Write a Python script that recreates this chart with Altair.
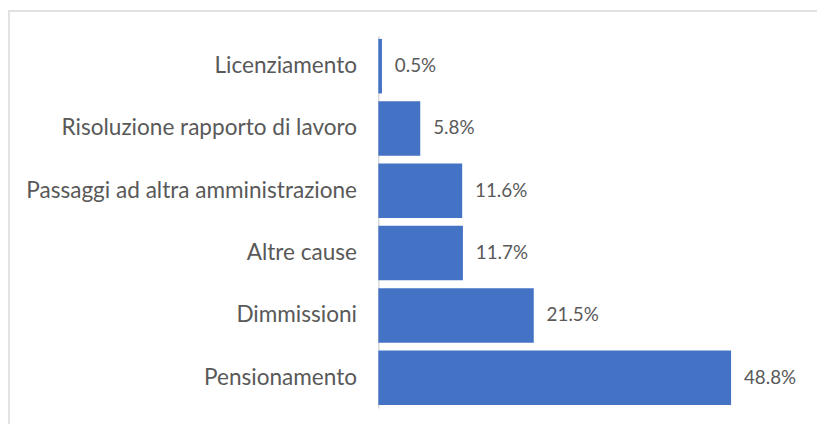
import altair as alt
import pandas as pd

categories = [
    "Licenziamento",
    "Risoluzione rapporto di lavoro",
    "Passaggi ad altra amministrazione",
    "Altre cause",
    "Dimmissioni",
    "Pensionamento",
]
values = [0.5, 5.8, 11.6, 11.7, 21.5, 48.8]
value_labels = ["0.5%", "5.8%", "11.6%", "11.7%", "21.5%", "48.8%"]

df = pd.DataFrame({"cat": categories, "val": values, "lbl": value_labels})

W, H = 438, 376
PL, PT = 374, 26

y_enc = alt.Y(
    "cat:N",
    sort=categories,
    scale=alt.Scale(paddingInner=0.125, paddingOuter=0.05),
    axis=alt.Axis(
        title=None,
        ticks=False,
        labelPadding=22,
        labelFont="Lato",
        labelFontSize=22.8,
        labelColor="#595959",
        labelLimit=400,
        domainColor="#d9d9d9",
        domainWidth=1.5,
        grid=False,
    ),
)
x_enc = alt.X("val:Q", scale=alt.Scale(domain=[0, 60]), axis=None)

bars = alt.Chart(df).mark_bar(color="#4472C4").encode(x=x_enc, y=y_enc)
texts = alt.Chart(df).mark_text(
    align="left", baseline="middle", dx=13, font="Lato", fontSize=19, color="#595959"
).encode(x=x_enc, y=alt.Y("cat:N", sort=categories), text="lbl:N")

border = alt.Chart(pd.DataFrame({"a": [0]})).mark_rect(
    fill="white", fillOpacity=0, stroke="#d9d9d9", strokeWidth=1.5
).encode(
    x=alt.value(9 - 8 - PL),
    x2=alt.value(W + 100),
    y=alt.value(9 - 8 - PT),
    y2=alt.value(H + 100),
)

chart = (
    alt.layer(border, bars, texts)
    .properties(
        width=W,
        height=H,
        background="white",
        padding={"left": PL, "top": PT, "right": 5, "bottom": 14},
        autosize=alt.AutoSizeParams(type="none"),
    )
    .configure_view(strokeWidth=0, stroke="transparent")
)

chart.save("out.html", embed_options={"renderer": "svg", "actions": False})
